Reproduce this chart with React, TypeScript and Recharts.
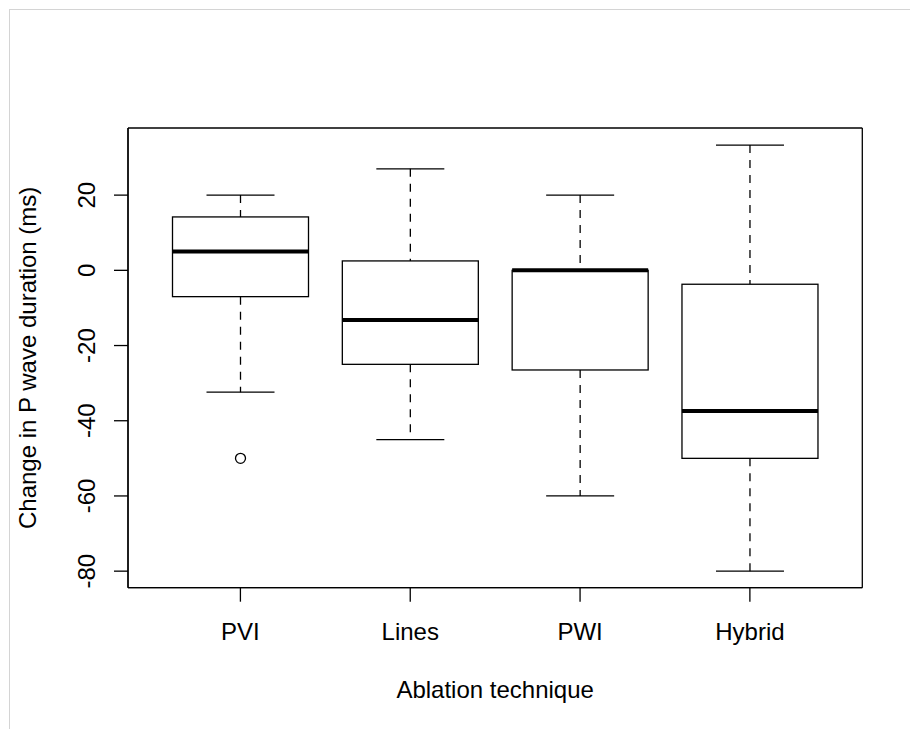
import { ComposedChart, Bar, XAxis, YAxis, Label, CartesianGrid } from 'recharts';

// Box plot values (ms)
const categories = ['PVI', 'Lines', 'PWI', 'Hybrid'];
const lowerWhisker = [-32.4, -45, -60, -80];
const lowerQuartile = [-7, -25, -26.5, -50];
const medians = [5, -13.2, 0, -37.4];
const upperQuartile = [14.2, 2.5, 0, -3.7];
const upperWhisker = [20, 27, 20, 33.3];
const outliers: number[][] = [[-50], [], [], []];

const yTicks = [-80, -60, -40, -20, 0, 20];
const Y_MIN = -84.4;
const Y_MAX = 37.85;

const FONT = '"Liberation Sans", Arial, Helvetica, sans-serif';
const LINE = 1.3;
const frameLine = { stroke: '#000', strokeWidth: LINE };

const data = categories.map((name, i) => ({
  name,
  lo: lowerWhisker[i],
  q1: lowerQuartile[i],
  med: medians[i],
  q3: upperQuartile[i],
  hi: upperWhisker[i],
  out: outliers[i],
  range: [lowerWhisker[i], upperWhisker[i]],
}));

function BoxShape(props: any) {
  const { x, y, width, height, payload } = props;
  const top = Math.min(y, y + height);
  const bottom = Math.max(y, y + height);
  const { lo, hi, q1, q3, med, out } = payload;
  // bar spans lo..hi on the linear y scale, so map the other stats along it
  const py = (v: number) => bottom - ((v - lo) / (hi - lo)) * (bottom - top);
  const cx = x + width / 2;
  const cap = width / 4;
  return (
    <g stroke="#000" strokeWidth={LINE} fill="none">
      <line x1={cx} x2={cx} y1={py(hi)} y2={py(q3)} strokeDasharray="8 7" />
      <line x1={cx} x2={cx} y1={py(q1)} y2={py(lo)} strokeDasharray="8 7" />
      <line x1={cx - cap} x2={cx + cap} y1={py(hi)} y2={py(hi)} />
      <line x1={cx - cap} x2={cx + cap} y1={py(lo)} y2={py(lo)} />
      <rect x={x} y={py(q3)} width={width} height={py(q1) - py(q3)} fill="#fff" />
      <line x1={x} x2={x + width} y1={py(med)} y2={py(med)} strokeWidth={4} />
      {out.map((v: number, k: number) => (
        <circle key={k} cx={cx} cy={py(v)} r={5} fill="#fff" />
      ))}
    </g>
  );
}

const XTick = (props: any) => {
  const { x, y, payload } = props;
  return (
    <text x={x} y={y} dy="0.71em" textAnchor="middle" fontSize={24} fontFamily={FONT} fill="#000">
      {payload.value}
    </text>
  );
};

const YTick = (props: any) => {
  const { x, y, payload } = props;
  return (
    <text
      x={x}
      y={y}
      transform={`rotate(-90 ${x} ${y})`}
      textAnchor="middle"
      fontSize={24}
      fontFamily={FONT}
      fill="#000"
    >
      {payload.value}
    </text>
  );
};

const YTitle = (props: any) => {
  const vb = props.viewBox || { x: 0, y: 118, width: 118, height: 460 };
  const tx = vb.x + 26;
  const ty = vb.y + vb.height / 2;
  return (
    <text
      x={tx}
      y={ty}
      transform={`rotate(-90 ${tx} ${ty})`}
      textAnchor="middle"
      fontSize={24}
      fontFamily={FONT}
      fill="#000"
    >
      Change in P wave duration (ms)
    </text>
  );
};

const XTitle = (props: any) => {
  const vb = props.viewBox || { x: 118, y: 578, width: 734, height: 120 };
  return (
    <text
      x={vb.x + vb.width / 2}
      y={vb.y + 110.3}
      textAnchor="middle"
      fontSize={24}
      fontFamily={FONT}
      fill="#000"
    >
      Ablation technique
    </text>
  );
};

export default function App() {
  return (
    <div
      style={{
        position: 'absolute',
        top: 9,
        left: 9,
        width: 901,
        height: 720,
        boxSizing: 'border-box',
        borderTop: '1px solid #d4d4d4',
        borderLeft: '1px solid #d4d4d4',
        background: '#fff',
      }}
    >
      <ComposedChart
        width={900}
        height={719}
        data={data}
        margin={{ top: 118, right: 47.7, left: 0, bottom: 21.3 }}
      >
        {/* plot frame: grid lines only on the four edges of the plot area */}
        <CartesianGrid
          stroke="#000"
          strokeWidth={LINE}
          horizontalCoordinatesGenerator={({ offset }: any) => [offset.top, offset.top + offset.height]}
          verticalCoordinatesGenerator={({ offset }: any) => [offset.left, offset.left + offset.width]}
        />
        <XAxis
          dataKey="name"
          type="category"
          height={120}
          padding={{ left: 27.5, right: 27.5 }}
          axisLine={frameLine}
          tickLine={frameLine}
          tickSize={14}
          tickMargin={21.3}
          tick={<XTick />}
          interval={0}
        >
          <Label content={<XTitle />} />
        </XAxis>
        <YAxis
          type="number"
          domain={[Y_MIN, Y_MAX]}
          ticks={yTicks}
          allowDataOverflow
          width={118}
          axisLine={frameLine}
          tickLine={frameLine}
          tickSize={14}
          tickMargin={19}
          tick={<YTick />}
          interval={0}
        >
          <Label content={<YTitle />} />
        </YAxis>
        <Bar dataKey="range" barSize={136} shape={<BoxShape />} isAnimationActive={false} />
      </ComposedChart>
    </div>
  );
}
